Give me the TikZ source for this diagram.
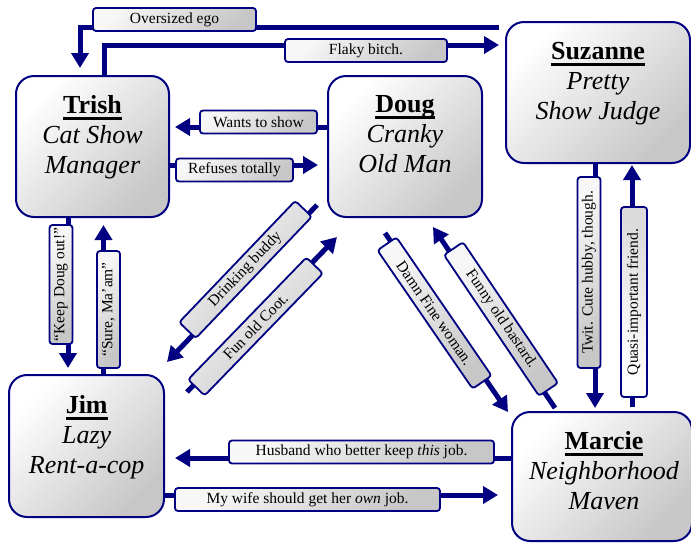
\documentclass[tikz,border=0pt]{standalone}
\usepackage{fontspec}
\setmainfont{Liberation Serif}
\usetikzlibrary{arrows.meta,calc}
\definecolor{navy}{RGB}{0,0,128}
\newcommand\nameul[1]{\setbox0\hbox{\bfseries #1}\rlap{\rule[-6pt]{\wd0}{2.5pt}}\box0}
\begin{document}
\begin{tikzpicture}[x=1pt,y=-1pt,
  mainbox/.style={draw=navy, line width=2pt, rounded corners=18pt, top color=white, bottom color=black!22, shading angle=45, outer sep=0pt, inner sep=0pt},
  maintext/.style={align=center, font=\fontsize{26}{30}\selectfont, anchor=north, inner sep=0pt},
  lbl/.style={draw=navy, line width=1.8pt, rounded corners=3pt, top color=black!3, bottom color=black!22, shading angle=45, minimum height=23pt, inner sep=0pt, font=\fontsize{15.5}{17}\selectfont},
  conn/.style={draw=navy, line width=5pt},
  arr/.style={conn, -{Triangle[width=17pt,length=15pt]}},
]
\useasboundingbox (0,0) rectangle (691,542);

% main nodes
\node[mainbox, minimum width=153pt, minimum height=141pt] (trish) at (92.5,146.5) {};
\node[mainbox, minimum width=154pt, minimum height=141pt] (doug) at (405,146.5) {};
\node[mainbox, minimum width=184pt, minimum height=141pt] (suzanne) at (598,92.5) {};
\node[mainbox, minimum width=155pt, minimum height=142pt] (jim) at (86.5,446) {};
\node[mainbox, minimum width=180pt, minimum height=129pt] (marcie) at (602,476.5) {};

\node[maintext] (trishT) at (92.5,95.5) {\nameul{Trish}\\ \textit{Cat Show}\\ \textit{Manager}};
\node[maintext] (dougT) at (405,95.5) {\nameul{Doug}\\ \textit{Cranky}\\ \textit{Old Man}};
\node[maintext] (suzanneT) at (598,42.5) {\nameul{Suzanne}\\ \textit{Pretty}\\ \textit{Show Judge}};
\node[maintext] (jimT) at (86.7,395.5) {\nameul{Jim}\\ \textit{Lazy}\\ \textit{Rent-a-cop}};
\node[maintext] (marcieT) at (604,431.5) {\nameul{Marcie}\\ \textit{Neighborhood}\\ \textit{Maven}};

% connectors
\draw[arr] ($(suzanne.north west)+(-7,5)$) -| ($(trish.north)+(-12.5,-8)$);
\draw[arr] ($(trish.north)+(11.5,0)$) |- ($(suzanne.north west)+(-7,23)$);
\draw[arr] ($(doug.west)+(0,-19.5)$) -- ($(trish.east)+(6,-19.5)$);
\draw[arr] ($(trish.east)+(0,18.5)$) -- ($(doug.west)+(-10,18.5)$);
\draw[arr] ($(trish.south)+(-24.5,0)$) -- ($(jim.north)+(-18.5,-7)$);
\draw[arr] ($(jim.north)+(17,0)$) -- ($(trish.south)+(11,8)$);
\draw[arr] ($(suzanne.south)+(-3,0)$) -- ($(marcie.north)+(-7,-4)$);
\draw[arr] ($(marcie.north)+(30,-5)$) -- ($(suzanne.south)+(34,2)$);
\draw[arr] ($(marcie.west)+(0,-18.5)$) -- ($(jim.east)+(11,12)$);
\draw[arr] ($(jim.east)+(0,49)$) -- ($(marcie.west)+(-14,18.5)$);
\draw[arr] ($(doug.south west)+(-11,-12)$) -- ($(jim.north east)+(3,-13)$);
\draw[arr] ($(jim.north east)+(23,17)$) -- ($(doug.south west)+(9,20)$);
\draw[arr] ($(doug.south)+(-20,16)$) -- ($(marcie.north west)+(-4,0)$);
\draw[arr] ($(marcie.north west)+(43,-4)$) -- ($(doug.south)+(28,10)$);

% labels
\node[lbl, minimum width=163pt] (lEgo) at (174.5,19.5) {Oversized ego};
\node[lbl, minimum width=162pt] (lFlaky) at (366,50.5) {Flaky bitch.};
\node[lbl, minimum width=117pt] (lWants) at (258.5,122) {Wants to show};
\node[lbl, minimum width=117pt] (lRefuses) at (234.5,170) {Refuses totally};
\node[lbl, rotate=90, minimum width=119pt] (lKeep) at (61,284.5) {“Keep Doug out!"};
\node[lbl, rotate=90, minimum width=117pt] (lSure) at (108.5,309.5) {“Sure, Ma’am”};
\node[lbl, rotate=90, minimum width=191pt] (lTwit) at (589,272.5) {Twit. Cute hubby, though.};
\node[lbl, rotate=90, minimum width=190pt, minimum height=26pt, top color=white, bottom color=black!14, shading angle=135] (lQuasi) at (634,302) {Quasi-important friend.};
\node[lbl, minimum width=265pt] (lHusband) at (361.5,452) {Husband who better keep \textit{this} job.};
\node[lbl, minimum width=265pt] (lWife) at (307.5,499.5) {My wife should get her \textit{own} job.};
\node[lbl, rotate=46.3, minimum width=168pt] (lDrink) at (245.5,269.5) {Drinking buddy};
\node[lbl, rotate=45.9, minimum width=170pt] (lCoot) at (255.5,326.5) {Fun old Coot.};
\node[lbl, rotate=-55.5, minimum width=168pt] (lDamn) at (434.5,313) {Damn Fine woman.};
\node[lbl, rotate=-56, minimum width=170pt] (lFunny) at (501,319) {Funny old bastard.};
\end{tikzpicture}
\end{document}
